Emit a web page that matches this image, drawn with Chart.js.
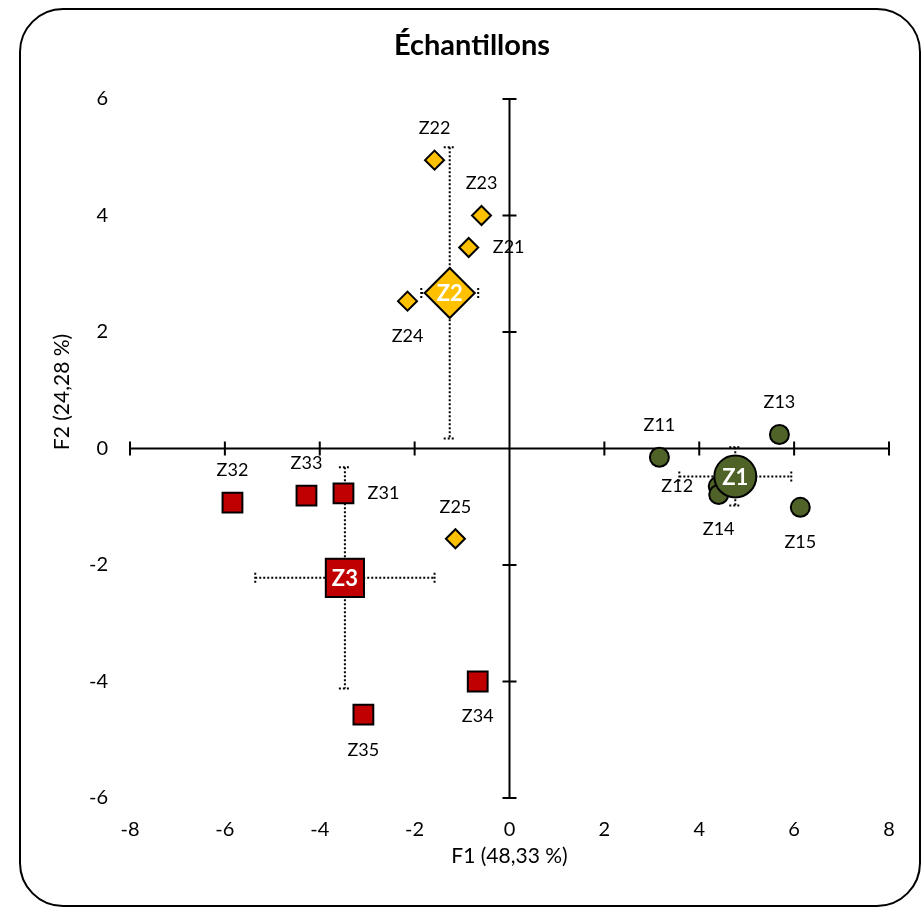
<!DOCTYPE html>
<html>
<head>
<meta charset="utf-8">
<script src="https://cdn.jsdelivr.net/npm/chart.js@4.4.1/dist/chart.umd.min.js"></script>
<style>
  html, body { margin: 0; padding: 0; background: #fff; }
  #wrap { position: relative; width: 923px; height: 911px; }
  #frame { position: absolute; left: 19px; top: 8px; width: 898px; height: 895px;
           border: 2px solid #000; border-radius: 44px; pointer-events: none; }
  canvas { position: absolute; left: 0; top: 0; }
</style>
</head>
<body>
<div id="wrap">
  <canvas id="chart" width="923" height="911"></canvas>
  <div id="frame"></div>
</div>
<script>
// observations, group Z1 (green)
const z1Labels = ['Z11', 'Z12', 'Z13', 'Z14', 'Z15'];
const z1X = [3.16, 4.40, 5.69, 4.41, 6.13];
const z1Y = [-0.15, -0.65, 0.24, -0.79, -1.01];

// group Z2 (yellow)
const z2Labels = ['Z21', 'Z22', 'Z23', 'Z24', 'Z25'];
const z2X = [-0.86, -1.58, -0.59, -2.15, -1.14];
const z2Y = [3.45, 4.95, 4.00, 2.53, -1.55];

// group Z3 (red)
const z3Labels = ['Z31', 'Z32', 'Z33', 'Z34', 'Z35'];
const z3X = [-3.50, -5.84, -4.28, -0.67, -3.08];
const z3Y = [-0.77, -0.93, -0.81, -4.00, -4.57];

// group centroids and their spread
const groupLabels = ['Z1', 'Z2', 'Z3'];
const groupX = [4.76, -1.26, -3.47];
const groupY = [-0.48, 2.67, -2.22];
const groupErrX = [1.18, 0.60, 1.89];
const groupErrY = [0.50, 2.50, 1.90];

const xTickValues = [-8, -6, -4, -2, 0, 2, 4, 6, 8];
const yTickValues = [-6, -4, -2, 0, 2, 4, 6];

// where each label sits relative to its point
const z1LabelPos = ['top', 'left', 'top', 'bottom', 'bottom'];
const z2LabelPos = ['right', 'top', 'top', 'bottom', 'top'];
const z3LabelPos = ['right', 'top', 'top', 'bottom', 'bottom'];

const FONT = 'Lato, "Open Sans", sans-serif';
const GREEN = '#4F6228';
const YELLOW = '#FFC000';
const RED = '#C00000';

const toPoints = (xs, ys, labels) => xs.map((x, i) => ({ x: x, y: ys[i], label: labels[i] }));

const labelPositions = { Z1: z1LabelPos, Z2: z2LabelPos, Z3: z3LabelPos };

// crossing axes, tick marks and error bars drawn through the scales
const axesPlugin = {
  id: 'crossAxes',
  beforeDatasetsDraw(chart) {
    const { ctx, chartArea, scales } = chart;
    const xs = scales.x, ys = scales.y;
    const x0 = xs.getPixelForValue(0);
    const y0 = ys.getPixelForValue(0);
    ctx.save();

    // error bars (dotted)
    ctx.strokeStyle = '#000';
    ctx.lineWidth = 2;
    ctx.setLineDash([2, 2]);
    groupLabels.forEach((g, i) => {
      const cx = xs.getPixelForValue(groupX[i]);
      const cy = ys.getPixelForValue(groupY[i]);
      const xl = xs.getPixelForValue(groupX[i] - groupErrX[i]);
      const xr = xs.getPixelForValue(groupX[i] + groupErrX[i]);
      const yt = ys.getPixelForValue(groupY[i] + groupErrY[i]);
      const yb = ys.getPixelForValue(groupY[i] - groupErrY[i]);
      ctx.beginPath();
      ctx.moveTo(xl, cy); ctx.lineTo(xr, cy);
      ctx.moveTo(cx, yt); ctx.lineTo(cx, yb);
      // caps
      ctx.moveTo(xl, cy - 5); ctx.lineTo(xl, cy + 5);
      ctx.moveTo(xr, cy - 5); ctx.lineTo(xr, cy + 5);
      ctx.moveTo(cx - 6, yt); ctx.lineTo(cx + 6, yt);
      ctx.moveTo(cx - 6, yb); ctx.lineTo(cx + 6, yb);
      ctx.stroke();
    });
    ctx.setLineDash([]);

    // axis lines
    ctx.lineWidth = 2;
    ctx.beginPath();
    ctx.moveTo(chartArea.left, y0); ctx.lineTo(chartArea.right, y0);
    ctx.moveTo(x0, chartArea.top); ctx.lineTo(x0, chartArea.bottom);
    xTickValues.forEach(v => {
      const px = xs.getPixelForValue(v);
      ctx.moveTo(px, y0 - 7); ctx.lineTo(px, y0 + 7);
    });
    yTickValues.forEach(v => {
      const py = ys.getPixelForValue(v);
      ctx.moveTo(x0 - 7, py); ctx.lineTo(x0 + 7, py);
    });
    ctx.stroke();
    ctx.restore();
  },
  afterDatasetsDraw(chart) {
    const { ctx, scales } = chart;
    const xs = scales.x, ys = scales.y;
    ctx.save();
    ctx.textAlign = 'center';
    ctx.textBaseline = 'middle';

    // point labels
    ctx.fillStyle = '#000';
    ctx.font = '18px ' + FONT;
    chart.data.datasets.forEach(ds => {
      if (ds.isGroup) return;
      const pos = labelPositions[ds.label];
      ds.data.forEach((p, i) => {
        let px = xs.getPixelForValue(p.x);
        let py = ys.getPixelForValue(p.y);
        if (pos[i] === 'top') py -= 32;
        if (pos[i] === 'bottom') py += 35;
        if (pos[i] === 'left') px -= 41;
        if (pos[i] === 'right') px += 40;
        ctx.fillText(p.label, px, py);
      });
    });

    // centroid labels
    ctx.fillStyle = '#fff';
    ctx.font = 'bold 22px ' + FONT;
    groupLabels.forEach((g, i) => {
      ctx.fillText(g, xs.getPixelForValue(groupX[i]), ys.getPixelForValue(groupY[i]) + 1);
    });

    // titles
    ctx.fillStyle = '#000';
    ctx.font = 'bold 29px ' + FONT;
    ctx.fillText('Échantillons', 472, 46);
    ctx.font = '21px ' + FONT;
    ctx.fillText('F1 (48,33 %)', (chart.chartArea.left + chart.chartArea.right) / 2, 856);
    ctx.translate(62, 392);
    ctx.rotate(-Math.PI / 2);
    ctx.fillText('F2 (24,28 %)', 0, 0);
    ctx.restore();
  }
};

const ctx = document.getElementById('chart').getContext('2d');
new Chart(ctx, {
  type: 'scatter',
  data: {
    datasets: [
      {
        label: 'Z1c', isGroup: true, order: 0,
        data: [{ x: groupX[0], y: groupY[0] }],
        pointStyle: 'circle', pointRadius: 21, backgroundColor: GREEN,
        borderColor: '#000', borderWidth: 2
      },
      {
        label: 'Z2c', isGroup: true, order: 0,
        data: [{ x: groupX[1], y: groupY[1] }],
        pointStyle: 'rectRot', pointRadius: 25, backgroundColor: YELLOW,
        borderColor: '#000', borderWidth: 2
      },
      {
        label: 'Z3c', isGroup: true, order: 0,
        data: [{ x: groupX[2], y: groupY[2] }],
        pointStyle: 'rect', pointRadius: 27, backgroundColor: RED,
        borderColor: '#000', borderWidth: 2
      },
      {
        label: 'Z1', order: 1,
        data: toPoints(z1X, z1Y, z1Labels),
        pointStyle: 'circle', pointRadius: 9.5, backgroundColor: GREEN,
        borderColor: '#000', borderWidth: 2
      },
      {
        label: 'Z2', order: 1,
        data: toPoints(z2X, z2Y, z2Labels),
        pointStyle: 'rectRot', pointRadius: 9.5, backgroundColor: YELLOW,
        borderColor: '#000', borderWidth: 2
      },
      {
        label: 'Z3', order: 1,
        data: toPoints(z3X, z3Y, z3Labels),
        pointStyle: 'rect', pointRadius: 14, backgroundColor: RED,
        borderColor: '#000', borderWidth: 2
      }
    ]
  },
  options: {
    responsive: false,
    animation: false,
    events: [],
    layout: { padding: { left: 0, top: 99, right: 34, bottom: 0 } },
    plugins: {
      legend: { display: false },
      tooltip: { enabled: false },
      title: { display: false }
    },
    scales: {
      x: {
        type: 'linear', min: -8, max: 8,
        grid: { display: false, drawTicks: false },
        border: { display: false },
        ticks: { stepSize: 2, padding: 20, color: '#000', font: { family: FONT, size: 20 } },
        afterFit(scale) { scale.height = 113; }
      },
      y: {
        type: 'linear', min: -6, max: 6,
        grid: { display: false, drawTicks: false },
        border: { display: false },
        ticks: { stepSize: 2, padding: 22, color: '#000', font: { family: FONT, size: 20 } },
        afterFit(scale) { scale.width = 130; }
      }
    }
  },
  plugins: [axesPlugin]
});
</script>
</body>
</html>
